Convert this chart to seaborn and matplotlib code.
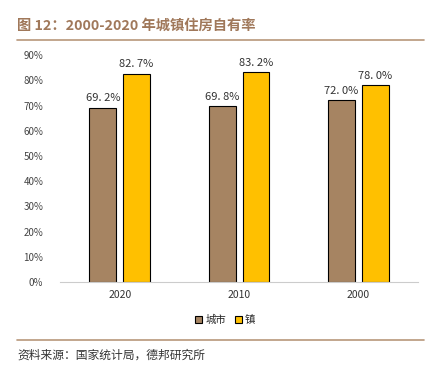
import matplotlib
matplotlib.use("Agg")
import matplotlib.pyplot as plt
import seaborn as sns
import pandas as pd
from matplotlib.lines import Line2D
from matplotlib.patches import Patch

years = ["2020", "2010", "2000"]
city = [69.2, 69.8, 72.0]
town = [82.7, 83.2, 78.0]
series = ["城市", "镇"]

sns.set_theme(style="white")
plt.rcParams['font.family'] = ['Noto Sans CJK SC', 'DejaVu Sans']

df = pd.DataFrame({
    "year": years * 2,
    "rate": city + town,
    "kind": [series[0]] * 3 + [series[1]] * 3,
})

colors = ["#A68462", "#FFC000"]

fig = plt.figure(figsize=(4.33, 3.70), dpi=100)
ax = fig.add_axes([0.1386, 0.238, 0.827, 0.613])

sns.barplot(data=df, x="year", y="rate", hue="kind", palette=colors,
            saturation=1, width=0.567, gap=0.206, edgecolor="black", linewidth=0.8,
            legend=False, ax=ax)

for c in ax.containers:
    ax.bar_label(c, labels=[f"{v:.1f}%".replace(".", ". ") for v in c.datavalues],
                 padding=3, fontsize=8, color="#333333")

ax.set_ylim(0, 90)
ax.set_yticks(range(0, 91, 10))
ax.set_yticklabels([f"{v}%" for v in range(0, 91, 10)], fontsize=7, color="#444444")
ax.tick_params(axis="x", labelsize=7.5, colors="#333333", length=0, pad=6)
ax.tick_params(axis="y", length=0, pad=12)
ax.set_xlabel("")
ax.set_ylabel("")
for s in ["top", "right", "left"]:
    ax.spines[s].set_visible(False)
ax.spines["bottom"].set_color("#cccccc")
ax.spines["bottom"].set_linewidth(0.8)

handles = [Patch(facecolor=colors[i], edgecolor="black", linewidth=0.8, label=series[i])
           for i in range(2)]
fig.legend(handles=handles, loc="center", bbox_to_anchor=(0.52, 0.135), ncol=2,
           frameon=False, fontsize=7.5, handlelength=0.7, handleheight=0.7,
           handletextpad=0.3, columnspacing=0.8)

fig.text(0.04, 0.93, "图 12：2000-2020 年城镇住房自有率", fontsize=10.3,
         fontweight="bold", color="#A0785A", va="center")
fig.add_artist(Line2D([0.04, 0.98], [0.892, 0.892], color="#B8977A", linewidth=1.2))
fig.add_artist(Line2D([0.04, 0.98], [0.081, 0.081], color="#B8977A", linewidth=1.2))
fig.text(0.04, 0.04, "资料来源：国家统计局，德邦研究所", fontsize=8.5, color="#333333", va="center")

fig.savefig("out.png", dpi=100)
